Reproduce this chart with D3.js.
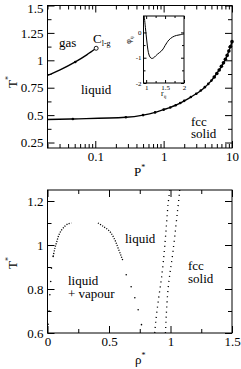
<!DOCTYPE html>
<html><head><meta charset="utf-8">
<script src="https://cdn.jsdelivr.net/npm/d3@7"></script>
<style>
body{margin:0;background:#fff}
text{font-family:"Liberation Serif","Times New Roman",serif;fill:#000}
</style>
</head><body>
<svg id="chart" width="241" height="369"></svg>
<script>
// ---- top panel: P-T phase diagram ----
const meltP = [0.02, 0.047, 0.28, 0.5, 0.75, 1.0, 1.25, 1.5, 1.75, 2.0, 2.5, 3.0, 3.5, 4.0, 4.5, 5.0, 5.5, 6.0, 6.5, 7.0, 7.5, 8.0, 8.5, 9.0, 9.5, 10];
const meltT = [0.46, 0.465, 0.48, 0.50, 0.525, 0.55, 0.57, 0.59, 0.61, 0.63, 0.665, 0.695, 0.725, 0.755, 0.785, 0.815, 0.848, 0.88, 0.912, 0.945, 0.977, 1.01, 1.045, 1.085, 1.125, 1.17];
const lgP = [0.02, 0.03, 0.051, 0.075, 0.103];
const lgT = [0.862, 0.91, 0.985, 1.05, 1.11];
const lgDotP = [0.051];
const lgDotT = [0.985];
const critP = 0.103, critT = 1.11;

// inset: pair potential
const potR = [0.95, 0.98, 1.0, 1.03, 1.06, 1.1, 1.15, 1.2, 1.25, 1.3, 1.35, 1.4, 1.45, 1.5, 1.55, 1.6, 1.7, 1.8, 1.9, 2.0];
const potPhi = [0.65, 0.2, -0.1, -0.5, -0.8, -0.97, -1.03, -1.0, -0.93, -0.86, -0.8, -0.74, -0.65, -0.52, -0.4, -0.3, -0.18, -0.12, -0.09, -0.06];

// ---- bottom panel: rho-T phase diagram ----
const vapSparseRho = [0.005, 0.013, 0.019, 0.026, 0.032, 0.046];
const vapSparseT   = [0.64, 0.70, 0.774, 0.834, 0.895, 0.948];
const vapDenseRho  = [0.046, 0.06, 0.073, 0.1, 0.14, 0.17, 0.195];
const vapDenseT    = [0.948, 0.985, 1.01, 1.055, 1.085, 1.097, 1.1];
const liqDenseRho  = [0.41, 0.452, 0.506, 0.547, 0.574, 0.6, 0.615];
const liqDenseT    = [1.1, 1.085, 1.062, 1.024, 0.986, 0.948, 0.925];
const liqSparseRho = [0.64, 0.68, 0.71, 0.737, 0.764];
const liqSparseT   = [0.865, 0.81, 0.76, 0.706, 0.638];
const liquidusRho  = [0.872, 0.88, 0.9, 0.927, 0.954, 0.98, 0.994];
const liquidusT    = [0.6, 0.65, 0.744, 0.85, 1.0, 1.183, 1.25];
const solidusRho   = [0.959, 0.98, 1.02, 1.067, 1.075];
const solidusT     = [0.6, 0.8, 0.97, 1.206, 1.25];

const svg = d3.select("#chart");
const zip = (a, b) => a.map((v, i) => [v, b[i]]);

// frame with inward ticks on all sides
function frame(x, y, xMaj, xMin, yMaj, yMin, opt) {
  const [x0, x1] = x.range(), [y1, y0] = y.range();
  const g = svg.append("g");
  const fs = opt.fs || 13, maj = opt.maj || 6, mn = opt.mn || 3;
  const fmt = opt.fmt || (d => String(d));
  const sides = [
    [d3.axisBottom(x), `translate(0,${y1})`, xMaj, xMin, true],
    [d3.axisTop(x), `translate(0,${y0})`, xMaj, xMin, false],
    [d3.axisLeft(y), `translate(${x0},0)`, yMaj, yMin, true],
    [d3.axisRight(y), `translate(${x1},0)`, yMaj, yMin, false]
  ];
  sides.forEach(([ax, tr, ma, mi, lab]) => {
    g.append("g").attr("transform", tr)
      .call(ax.tickValues(ma).tickSizeInner(-maj).tickSizeOuter(0).tickPadding(opt.pad || 4)
        .tickFormat(lab ? fmt : ""))
      .call(s => s.select(".domain").remove())
      .call(s => s.selectAll("text").attr("font-size", fs).attr("font-family", null));
    if (mi.length)
      g.append("g").attr("transform", tr)
        .call(ax.tickValues(mi).tickSizeInner(-mn).tickFormat(""))
        .call(s => s.select(".domain").remove());
  });
  g.append("rect").attr("x", x0).attr("y", y0).attr("width", x1 - x0).attr("height", y1 - y0)
    .attr("fill", "none").attr("stroke", "#000").attr("stroke-width", 1);
  return g;
}

// --- top
const xP = d3.scaleLog().domain([0.02, 10]).range([47.5, 232]);
const yT = d3.scaleLinear().domain([0.2, 1.5]).range([148, 5.5]);
const xPMaj = [0.1, 1, 10];
const xPMin = xP.ticks().filter(d => !xPMaj.includes(d));
const yTMaj = [0.25, 0.5, 0.75, 1, 1.25, 1.5];
const yTMin = [0.375, 0.625, 0.875, 1.125, 1.375];
const topFrame = frame(xP, yT, xPMaj, xPMin, yTMaj, yTMin, {maj: 7, mn: 4});
// keep the top tick label inside the picture
topFrame.selectAll("text").filter(d => d === 1.5).attr("dy", "0.5em");

const line1 = d3.line().x(d => xP(d[0])).y(d => yT(d[1])).curve(d3.curveMonotoneX);
svg.append("path").datum(zip(meltP, meltT)).attr("d", line1)
  .attr("fill", "none").attr("stroke", "#000").attr("stroke-width", 1.4);
svg.append("g").selectAll("circle").data(zip(meltP, meltT).slice(1)).enter().append("circle")
  .attr("cx", d => xP(d[0])).attr("cy", d => yT(d[1])).attr("r", d => d[0] > 5 ? 1.8 : 1.3);
svg.append("path").datum(zip(lgP, lgT)).attr("d", line1)
  .attr("fill", "none").attr("stroke", "#000").attr("stroke-width", 1.4);
svg.append("g").selectAll("circle").data(zip(lgDotP, lgDotT)).enter().append("circle")
  .attr("cx", d => xP(d[0])).attr("cy", d => yT(d[1])).attr("r", 1.3);
svg.append("circle").attr("cx", xP(critP)).attr("cy", yT(critT)).attr("r", 2)
  .attr("fill", "#fff").attr("stroke", "#000").attr("stroke-width", 0.9);

// top labels
const txt = (x, y, s, fs = 13) => svg.append("text").attr("x", x).attr("y", y).attr("font-size", fs).text(s);
txt(59, 47, "gas");
const c = svg.append("text").attr("x", 93).attr("y", 43).attr("font-size", 13);
c.append("tspan").text("C");
c.append("tspan").attr("font-size", 8).attr("dy", 3).text("l-g");
txt(81, 94, "liquid");
txt(191, 126, "fcc");
txt(191, 138, "solid");
const px = svg.append("text").attr("x", 134).attr("y", 176).attr("font-size", 13);
px.append("tspan").text("P");
px.append("tspan").attr("font-size", 8).attr("dy", -6).text("*");
const ty = svg.append("text").attr("transform", "translate(17,82) rotate(-90)").attr("text-anchor", "middle").attr("font-size", 13);
ty.append("tspan").text("T");
ty.append("tspan").attr("font-size", 8).attr("dy", -6).text("*");

// inset
const xr = d3.scaleLinear().domain([0.93, 2]).range([143.5, 184]);
const yphi = d3.scaleLinear().domain([-2, 0.65]).range([83, 16]);
svg.append("rect").attr("x", 143.5).attr("y", 16).attr("width", 40.5).attr("height", 67).attr("fill", "#fff");
frame(xr, yphi, [1, 1.5, 2], [1.25, 1.75], [-2, -1, 0], [-1.5, -0.5], {fs: 7, maj: 3, mn: 2, pad: 2});
svg.append("path").datum(zip(potR, potPhi)).attr("d", d3.line().x(d => xr(d[0])).y(d => yphi(d[1])).curve(d3.curveCatmullRom))
  .attr("fill", "none").attr("stroke", "#000").attr("stroke-width", 1);
const rx = svg.append("text").attr("x", 161).attr("y", 96).attr("font-size", 8);
rx.append("tspan").text("r");
rx.append("tspan").attr("font-size", 5).attr("dy", 2).text("ij");
const phy = svg.append("text").attr("transform", "translate(131,40) rotate(-90)").attr("text-anchor", "middle").attr("font-size", 8);
phy.append("tspan").text("φ");
phy.append("tspan").attr("font-size", 5).attr("dy", 2).text("ij");

// --- bottom
const xR = d3.scaleLinear().domain([0, 1.5]).range([47.5, 232]);
const yB = d3.scaleLinear().domain([0.6, 1.25]).range([333, 190]);
frame(xR, yB, [0, 0.5, 1, 1.5], [0.25, 0.75, 1.25], [0.6, 0.8, 1, 1.2], [0.7, 0.9, 1.1], {maj: 7, mn: 4});

const line2b = d3.line().x(d => xR(d[0])).y(d => yB(d[1])).curve(d3.curveCatmullRom);
[[vapDenseRho, vapDenseT, "1.1,1.4"], [liqDenseRho, liqDenseT, "1.1,1.4"],
 [liquidusRho, liquidusT, "1.1,4"], [solidusRho, solidusT, "1.1,4"]].forEach(([r, t, dash]) => {
  svg.append("path").datum(zip(r, t)).attr("d", line2b)
    .attr("fill", "none").attr("stroke", "#000").attr("stroke-width", 1.3).attr("stroke-dasharray", dash);
});
svg.append("g").selectAll("circle").data(zip(vapSparseRho, vapSparseT).concat(zip(liqSparseRho, liqSparseT)))
  .enter().append("circle").attr("cx", d => xR(d[0])).attr("cy", d => yB(d[1])).attr("r", 0.8);

txt(125, 243, "liquid");
txt(188, 270, "fcc");
txt(188, 282.5, "solid");
txt(68, 285, "liquid");
txt(68, 297.5, "+ vapour");
const rxl = svg.append("text").attr("x", 135).attr("y", 364).attr("font-size", 13);
rxl.append("tspan").text("ρ");
rxl.append("tspan").attr("font-size", 8).attr("dy", -6).text("*");
const tyb = svg.append("text").attr("transform", "translate(17,263) rotate(-90)").attr("text-anchor", "middle").attr("font-size", 13);
tyb.append("tspan").text("T");
tyb.append("tspan").attr("font-size", 8).attr("dy", -6).text("*");
</script>
</body></html>
